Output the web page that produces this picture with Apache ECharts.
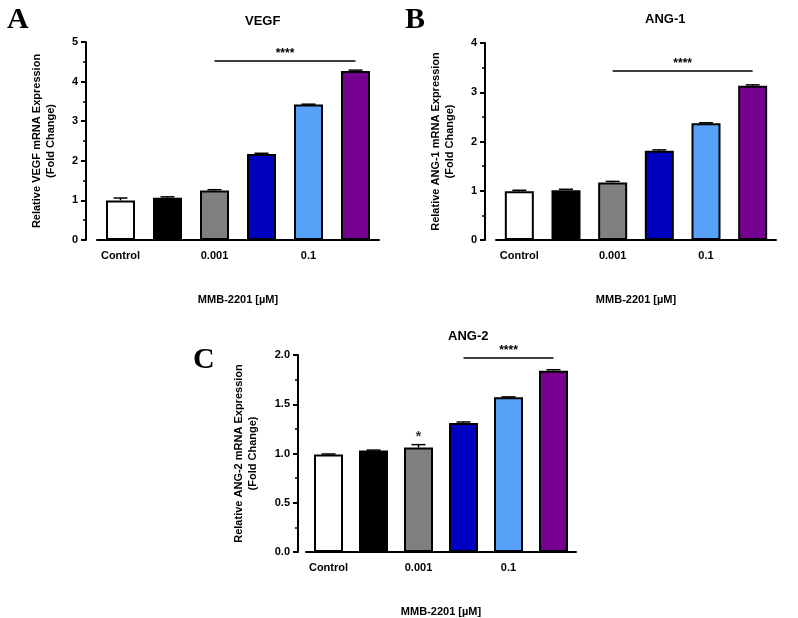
<!DOCTYPE html>
<html style="height: 100%">
<head>
    <title>MMB-2201</title>
    <meta charset="utf-8">
</head>
<body style="height: 100%; margin: 0; background: #fff">
<div id="container" style="height:618px;width:798px"></div>
<script src="https://cdn.jsdelivr.net/npm/echarts@6/dist/echarts.min.js"></script>
<script type="text/javascript">
    var doses = ['Control', '0.0001', '0.001', '0.01', '0.1', '1'];
    var colors = ['#ffffff', '#000000', '#808080', '#0000c0', '#55a2f8', '#760090'];
    var vegf = [1.0, 1.07, 1.25, 2.17, 3.42, 4.27];
    var vegfErr = [0.06, 0.02, 0.02, 0.02, 0.01, 0.02];
    var ang1 = [0.99, 1.01, 1.17, 1.81, 2.37, 3.13];
    var ang1Err = [0.02, 0.02, 0.02, 0.02, 0.01, 0.02];
    var ang2 = [0.99, 1.03, 1.06, 1.31, 1.57, 1.84];
    var ang2Err = [0.005, 0.005, 0.03, 0.01, 0.005, 0.01];
    // significance bars: [from, to, y, label]
    var sigA = ['0.001', '1', 4.52, '****'];
    var sigB = ['0.001', '1', 3.43, '****'];
    var sigC = ['0.01', '1', 1.97, '****'];

    var dom = document.getElementById('container');
    var myChart = echarts.init(dom);
    var font = 'Liberation Sans';

    function xAx(i) {
        return {
            type: 'category', gridIndex: i, data: doses,
            axisLine: {lineStyle: {color: '#000', width: 2}},
            axisTick: {alignWithLabel: true, length: 5, lineStyle: {width: 2}},
            axisLabel: {color: '#000', fontWeight: 'bold', fontSize: 11, fontFamily: font, margin: 10},
            name: 'MMB-2201 [µM]', nameLocation: 'middle', nameGap: 54,
            nameTextStyle: {color: '#000', fontWeight: 'bold', fontSize: 11, fontFamily: font}
        };
    }
    function yAx(i, max, interval, name, dec, off) {
        return {
            type: 'value', gridIndex: i, min: 0, max: max, interval: interval, offset: off,
            axisLine: {show: true, lineStyle: {color: '#000', width: 2}},
            axisTick: {show: true, length: 5, lineStyle: {width: 2}},
            minorTick: {show: true, splitNumber: 2, length: 3, lineStyle: {color: '#000', width: 1.5}},
            splitLine: {show: false},
            axisLabel: {color: '#000', fontWeight: 'bold', fontSize: 11, fontFamily: font,
                formatter: function (v) { return v.toFixed(dec); }},
            name: name, nameLocation: 'middle', nameGap: dec ? 38 : 28,
            nameTextStyle: {color: '#000', fontWeight: 'bold', fontSize: 11, fontFamily: font, lineHeight: 14}
        };
    }
    function bars(i, vals, sig) {
        return {
            type: 'bar', xAxisIndex: i, yAxisIndex: i, barWidth: 29,
            data: vals.map(function (v, k) {
                return {value: v, itemStyle: {color: colors[k], borderColor: '#000', borderWidth: 2}};
            }),
            markLine: {
                symbol: 'none', silent: true,
                lineStyle: {color: '#000', width: 1.5, type: 'solid'},
                label: {show: true, position: 'middle', formatter: sig[3], color: '#000', fontSize: 12, fontWeight: 'bold', distance: 1},
                data: [[{coord: [sig[0], sig[2]]}, {coord: [sig[1], sig[2]]}]]
            }
        };
    }
    function errs(i, vals, e) {
        return {
            type: 'custom', xAxisIndex: i, yAxisIndex: i, z: 1,
            data: vals.map(function (v, k) { return [k, v, v + e[k]]; }),
            renderItem: function (params, api) {
                var a = api.coord([api.value(0), api.value(1)]);
                var b = api.coord([api.value(0), api.value(2)]);
                return {type: 'group', children: [
                    {type: 'line', shape: {x1: a[0], y1: a[1], x2: b[0], y2: b[1]}, style: {stroke: '#000', lineWidth: 1.5}},
                    {type: 'line', shape: {x1: b[0] - 7, y1: b[1], x2: b[0] + 7, y2: b[1]}, style: {stroke: '#000', lineWidth: 1.5}}
                ]};
            }
        };
    }

    var titleStyle = {color: '#000', fontWeight: 'bold', fontSize: 13, fontFamily: font};
    var letterStyle = {color: '#000', fontWeight: 'bold', fontSize: 30, fontFamily: 'Liberation Serif'};

    myChart.setOption({
        animation: false,
        title: [
            {text: 'VEGF', left: 240, top: 10, textStyle: titleStyle},
            {text: 'ANG-1', left: 640, top: 8, textStyle: titleStyle},
            {text: 'ANG-2', left: 443, top: 325, textStyle: titleStyle},
            {text: 'A', left: 2, top: 0, textStyle: letterStyle},
            {text: 'B', left: 400, top: 0, textStyle: letterStyle},
            {text: 'C', left: 188, top: 340, textStyle: letterStyle}
        ],
        grid: [
            {left: 97, top: 42, width: 282, height: 198},
            {left: 496, top: 43, width: 280, height: 197},
            {left: 306, top: 355, width: 270, height: 201}
        ],
        xAxis: [xAx(0), xAx(1), xAx(2)],
        yAxis: [
            yAx(0, 5, 1, 'Relative VEGF mRNA Expression\n(Fold Change)', 0, 11),
            yAx(1, 4, 1, 'Relative ANG-1 mRNA Expression\n(Fold Change)', 0, 11),
            yAx(2, 2, 0.5, 'Relative ANG-2 mRNA Expression\n(Fold Change)', 1, 8)
        ],
        series: [
            bars(0, vegf, sigA), errs(0, vegf, vegfErr),
            bars(1, ang1, sigB), errs(1, ang1, ang1Err),
            bars(2, ang2, sigC), errs(2, ang2, ang2Err),
            {
                type: 'scatter', xAxisIndex: 2, yAxisIndex: 2, symbolSize: 0,
                data: [['0.001', ang2[2] + ang2Err[2]]],
                label: {show: true, formatter: '*', position: 'top', distance: 0, color: '#000', fontSize: 14, fontWeight: 'bold'}
            }
        ]
    });
</script>
</body>
</html>
